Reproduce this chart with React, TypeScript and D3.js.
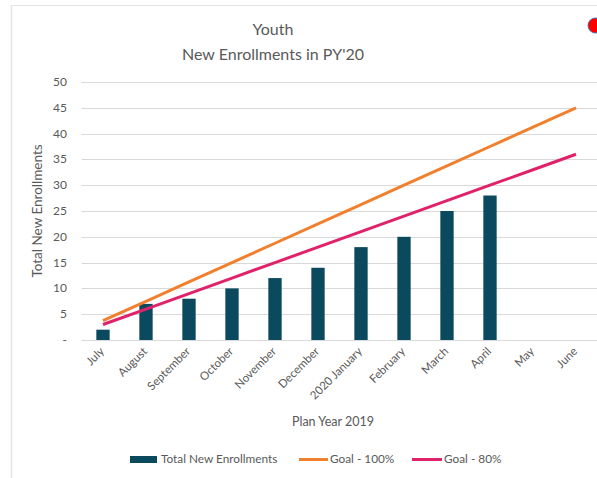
import React from 'react'
import * as d3 from 'd3'

const months = ['July', 'August', 'September', 'October', 'November', 'December',
  '2020 January', 'February', 'March', 'April', 'May', 'June']
const enrollments: (number | null)[] = [2, 7, 8, 10, 12, 14, 18, 20, 25, 28, null, null]
const goal100 = [3.75, 7.5, 11.25, 15, 18.75, 22.5, 26.25, 30, 33.75, 37.5, 41.25, 45]
const goal80 = [3, 6, 9, 12, 15, 18, 21, 24, 27, 30, 33, 36]
const yTicks = [0, 5, 10, 15, 20, 25, 30, 35, 40, 45, 50]

const width = 597
const height = 478
const font = "Lato, 'Liberation Sans', Arial, sans-serif"
const textColor = '#595959'
const barColor = '#0B4A5E'
const orange = '#F0802E'
const pink = '#E0226A'

const App = () => {
  const x = d3.scaleBand<string>()
    .domain(months)
    .range([81.5, 597.5])
    .paddingInner(0.69)
    .paddingOuter(0.345)
  const y = d3.scaleLinear().domain([0, 50]).range([340, 82])
  const cx = (m: string) => (x(m) as number) + x.bandwidth() / 2

  const line = d3.line<number>()
    .x((d, i) => cx(months[i]))
    .y(d => y(d))

  return (
    <svg width={width} height={height} style={{ position: 'absolute', left: 0, top: 0 }}
      fontFamily={font}>
      <rect x={0} y={0} width={width} height={height} fill="#fff" />
      {/* frame */}
      <line x1={11.5} x2={11.5} y1={5} y2={height} stroke="#E3E3E3" strokeWidth={1.5} />
      <line x1={11} x2={width} y1={5.5} y2={5.5} stroke="#E3E3E3" strokeWidth={1} />

      {/* title */}
      <text x={273} y={35} textAnchor="middle" fontSize={16} fill={textColor}>Youth</text>
      <text x={273} y={60} textAnchor="middle" fontSize={16} fill={textColor}>New Enrollments in PY'20</text>

      {/* grid + y ticks */}
      {yTicks.map(t => (
        <g key={t}>
          <line x1={81.5} x2={width} y1={Math.round(y(t)) + 0.5} y2={Math.round(y(t)) + 0.5}
            stroke="#D9D9D9" strokeWidth={1} />
          <text x={67} y={y(t) + 4} textAnchor="end" fontSize={12} fill={textColor}>
            {t === 0 ? '-' : t}
          </text>
        </g>
      ))}

      {/* bars */}
      {months.map((m, i) => enrollments[i] == null ? null : (
        <rect key={m} x={x(m)} y={y(enrollments[i] as number)} width={x.bandwidth()}
          height={y(0) - y(enrollments[i] as number)} fill={barColor} />
      ))}

      {/* goal lines */}
      <path d={line(goal100) || ''} fill="none" stroke={orange} strokeWidth={3} />
      <path d={line(goal80) || ''} fill="none" stroke={pink} strokeWidth={3} />

      {/* x labels */}
      {months.map(m => (
        <text key={m} transform={`translate(${cx(m) + 2},${352}) rotate(-45)`}
          textAnchor="end" fontSize={11.5} fill={textColor}>{m}</text>
      ))}

      {/* axis titles */}
      <text x={333} y={426} textAnchor="middle" fontSize={12.5} fill={textColor}>Plan Year 2019</text>
      <text transform={`translate(42,211) rotate(-90)`} textAnchor="middle" fontSize={13.5}
        fill={textColor}>Total New Enrollments</text>

      {/* legend */}
      <rect x={130} y={456} width={27} height={7} fill={barColor} />
      <text x={161} y={463} fontSize={11.8} fill={textColor}>Total New Enrollments</text>
      <line x1={299} x2={328} y1={459.5} y2={459.5} stroke={orange} strokeWidth={3} />
      <text x={330} y={463} fontSize={11.8} fill={textColor}>Goal - 100%</text>
      <line x1={412} x2={442} y1={459.5} y2={459.5} stroke={pink} strokeWidth={3} />
      <text x={444} y={463} fontSize={11.8} fill={textColor}>Goal - 80%</text>

      {/* red marker */}
      <circle cx={595.5} cy={25.5} r={7.5} fill="#FF0000" stroke="#4A6FA5" strokeWidth={1} />
    </svg>
  )
}

export default App
